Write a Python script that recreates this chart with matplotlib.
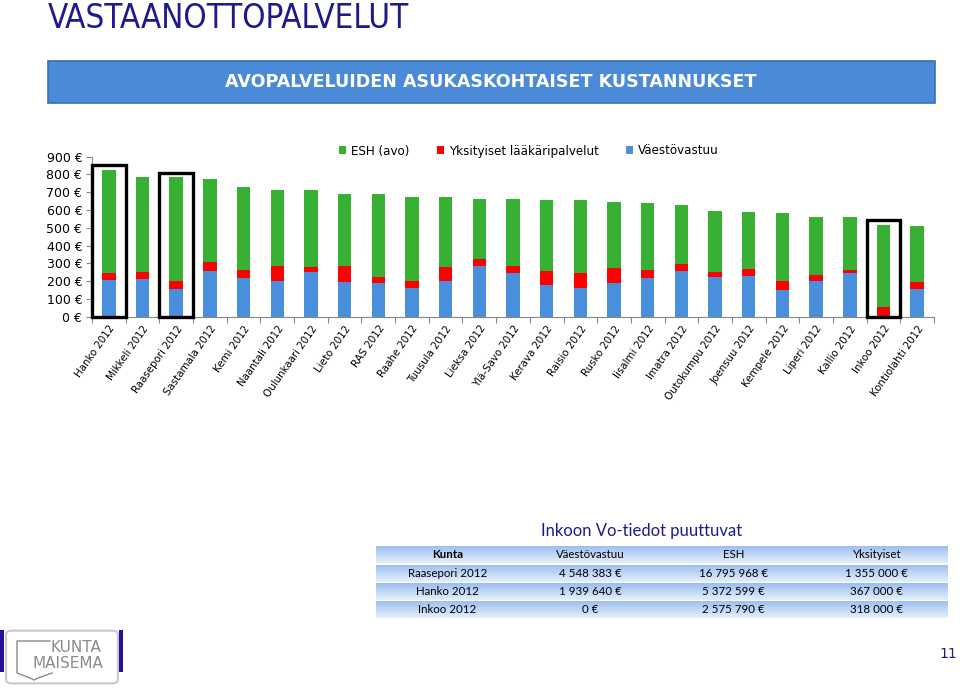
import matplotlib
matplotlib.use("Agg")
import matplotlib.pyplot as plt
from matplotlib.patches import Rectangle, FancyBboxPatch
from matplotlib.lines import Line2D
import numpy as np

# ---------------- data ----------------
kunnat = ["Hanko 2012", "Mikkeli 2012", "Raasepori 2012", "Sastamala 2012", "Kemi 2012",
          "Naantali 2012", "Oulunkaari 2012", "Lieto 2012", "RAS 2012", "Raahe 2012",
          "Tuusula 2012", "Lieksa 2012", "Ylä-Savo 2012", "Kerava 2012", "Raisio 2012",
          "Rusko 2012", "Iisalmi 2012", "Imatra 2012", "Outokumpu 2012", "Joensuu 2012",
          "Kempele 2012", "Liperi 2012", "Kallio 2012", "Inkoo 2012", "Kontiolahti 2012"]
vaestovastuu = [206, 210, 155, 257, 219, 199, 251, 193, 189, 163, 199, 285, 247, 178, 163,
                191, 219, 257, 223, 231, 152, 199, 247, 0, 158]
yksityiset = [38, 41, 44, 52, 42, 86, 30, 92, 34, 36, 78, 39, 38, 81, 81,
              85, 42, 39, 30, 39, 47, 37, 16, 55, 35]
esh = [581, 536, 585, 467, 466, 427, 430, 407, 465, 472, 394, 338, 375, 397, 412,
       369, 378, 330, 343, 317, 386, 325, 298, 463, 319]
korostetut = ["Hanko 2012", "Raasepori 2012", "Inkoo 2012"]
korostus_yla = [853, 810, 544]

sarjat = ["ESH (avo)", "Yksityiset lääkäripalvelut", "Väestövastuu"]
yticks = [0, 100, 200, 300, 400, 500, 600, 700, 800, 900]

taulukko_otsikot = ["Kunta", "Väestövastuu", "ESH", "Yksityiset"]
taulukko_rivit = [["Raasepori 2012", "4 548 383 €", "16 795 968 €", "1 355 000 €"],
                  ["Hanko 2012", "1 939 640 €", "5 372 599 €", "367 000 €"],
                  ["Inkoo 2012", "0 €", "2 575 790 €", "318 000 €"]]

# ---------------- style ----------------
GREEN = "#37B034"
RED = "#FF0000"
BLUE = "#4A8FDB"
NAVY = "#1E1A8C"
W, H = 960, 690

fig = plt.figure(figsize=(9.6, 6.9), dpi=100)

def fx(px):
    return px / W

def fy(py):
    return 1 - py / H

# title
fig.text(fx(48), fy(28), "VASTAANOTTOPALVELUT", fontsize=23.8, color=NAVY,
         family=["DejaVu Sans"], fontstretch="condensed", ha="left", va="baseline")

# banner
banner = Rectangle((fx(48), fy(103)), fx(935 - 48), (103 - 61) / H, transform=fig.transFigure,
                   facecolor="#4A8AD6", edgecolor="#3A6FAE", linewidth=1.2)
fig.add_artist(banner)
fig.text(fx(491), fy(82), "AVOPALVELUIDEN ASUKASKOHTAISET KUSTANNUKSET", fontsize=12.6,
         color="white", fontweight="bold", ha="center", va="center", family="DejaVu Sans")

# ---------------- chart ----------------
ax = fig.add_axes([fx(92), fy(316.7), fx(934 - 92), 160 / H])
x = np.arange(len(kunnat))
bw = 0.4
b1 = ax.bar(x, vaestovastuu, bw, color=BLUE, label=sarjat[2], zorder=2)
b2 = ax.bar(x, yksityiset, bw, bottom=vaestovastuu, color=RED, label=sarjat[1], zorder=2)
bottom2 = np.array(vaestovastuu) + np.array(yksityiset)
b3 = ax.bar(x, esh, bw, bottom=bottom2, color=GREEN, label=sarjat[0], zorder=2)

for name, top in zip(korostetut, korostus_yla):
    i = kunnat.index(name)
    ax.add_patch(Rectangle((i - 0.5, 0), 1.0, top, fill=False, edgecolor="black",
                           linewidth=2.4, zorder=3, clip_on=False))

ax.set_xlim(-0.5, len(kunnat) - 0.5)
ax.set_ylim(0, 900)
ax.set_yticks(yticks)
ax.set_yticklabels([f"{v} €" for v in yticks], fontsize=9, color="black")
ax.set_xticks(np.arange(len(kunnat) + 1) - 0.5)
ax.set_xticklabels([])
ax.set_xticks(x, minor=True)
ax.set_xticklabels(kunnat, minor=True, rotation=55, ha="right", rotation_mode="anchor",
                   fontsize=7.4)
ax.tick_params(axis="x", which="minor", length=0, pad=5)
ax.tick_params(axis="x", which="major", length=4, color="#888888", direction="out")
ax.tick_params(axis="y", length=4, color="#888888", direction="out", pad=3)
for s in ["top", "right"]:
    ax.spines[s].set_visible(False)
for s in ["left", "bottom"]:
    ax.spines[s].set_color("#888888")
    ax.spines[s].set_linewidth(0.8)

leg = fig.legend(handles=[b3, b2, b1], labels=sarjat, ncol=3, frameon=False,
                 loc="center", bbox_to_anchor=(fx(529), fy(151)), fontsize=8.6,
                 handlelength=0.6, handleheight=0.6, handletextpad=0.4, columnspacing=2.3)

# ---------------- table ----------------
fig.text(fx(642), fy(531), "Inkoon Vo-tiedot puuttuvat", fontsize=12, color=NAVY,
         family="Lato", ha="center", va="center")

tab_left, tab_right = 376, 948
row_edges = [545, 564, 582.5, 600.5, 619]
grad = np.linspace(0, 1, 64).reshape(-1, 1)
top_c = np.array([0.60, 0.74, 0.94])
bot_c = np.array([0.90, 0.94, 0.99])
img = top_c[None, None, :] * (1 - grad[:, :, None]) + bot_c[None, None, :] * grad[:, :, None]
col_w = (tab_right - tab_left) / 4
all_rows = [taulukko_otsikot] + taulukko_rivit
for r in range(4):
    y0, y1 = row_edges[r], row_edges[r + 1]
    rax = fig.add_axes([fx(tab_left), fy(y1 - 0.5), fx(tab_right - tab_left), (y1 - y0 - 1) / H])
    rax.imshow(img, aspect="auto", extent=(0, 1, 0, 1))
    rax.set_axis_off()
    yc = (y0 + y1) / 2
    for c in range(4):
        fig.text(fx(tab_left + col_w * (c + 0.5)), fy(yc), all_rows[r][c], fontsize=8.3,
                 family="Lato", ha="center", va="center", color="black",
                 fontweight="bold" if (r == 0 and c == 0) else "normal")

# ---------------- logo & page number ----------------
for x0 in (0, 119):
    fig.add_artist(Rectangle((fx(x0), fy(672)), fx(4), (672 - 630) / H,
                             transform=fig.transFigure, facecolor="#22139A", edgecolor="none"))
logo = FancyBboxPatch((fx(8), fy(682)), fx(108), (682 - 632) / H, transform=fig.transFigure,
                      boxstyle="round,pad=0.002,rounding_size=0.006", facecolor="white",
                      edgecolor="#C8C8C8", linewidth=1.5)
fig.add_artist(logo)
shx = [fx(50), fx(17), fx(17), fx(30), fx(34), fx(38), fx(52)]
shy = [fy(641), fy(641), fy(673), fy(678), fy(680), fy(678), fy(673)]
fig.add_artist(Line2D(shx, shy, transform=fig.transFigure, color="#8A8A8A", linewidth=1.0))
fig.text(fx(50), fy(648), "KUNTA", fontsize=11, color="#8A8A8A", ha="left", va="center",
         family="DejaVu Sans")
fig.text(fx(33), fy(663), "MAISEMA", fontsize=11, color="#8A8A8A", ha="left", va="center",
         family="DejaVu Sans")

fig.text(fx(948), fy(654), "11", fontsize=10, color=NAVY, ha="center", va="center")

fig.savefig("out.png", dpi=100)
